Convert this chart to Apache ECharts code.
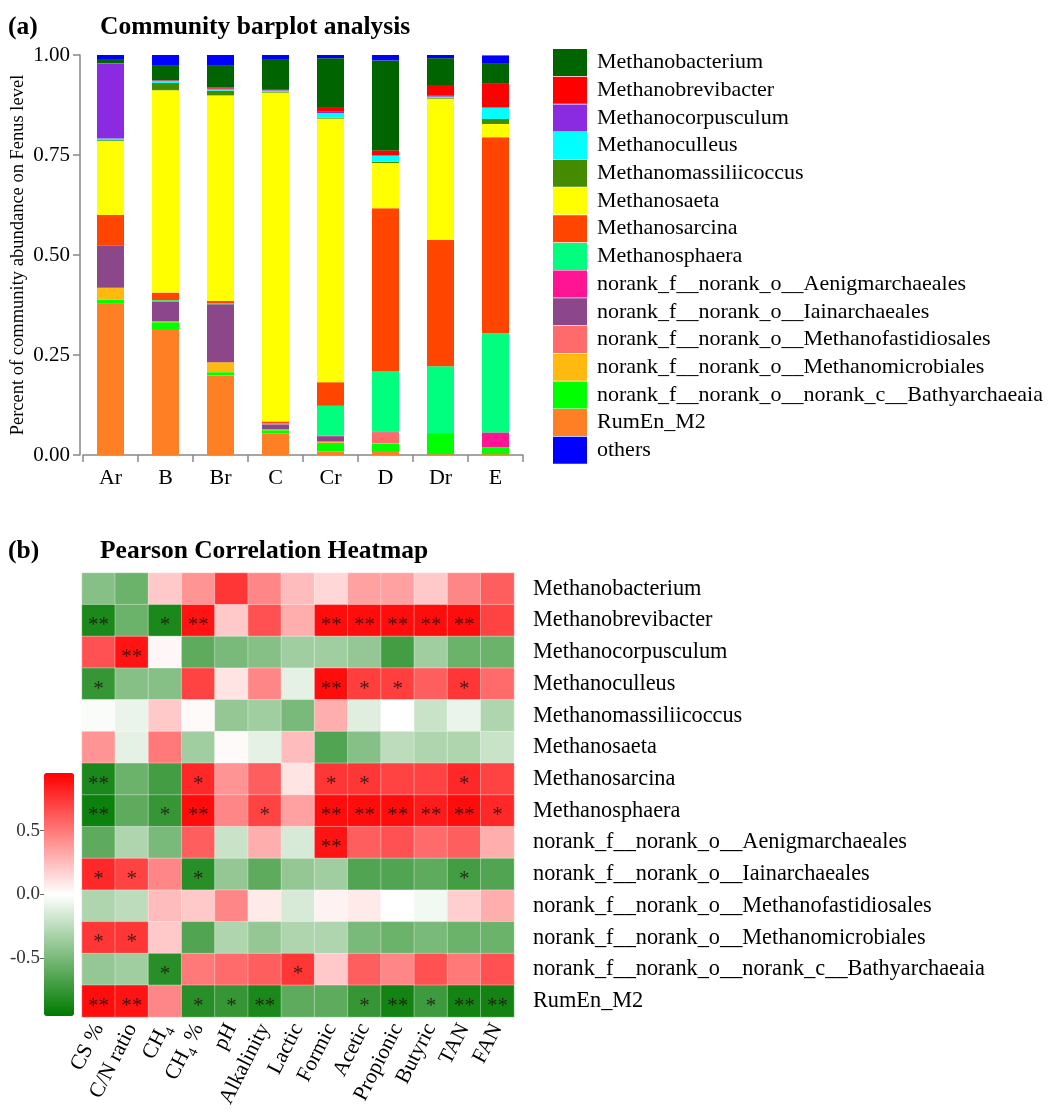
<!DOCTYPE html>
<html>
<head>
<meta charset="utf-8">
<script src="https://cdn.jsdelivr.net/npm/echarts@6/dist/echarts.min.js"></script>
<style>
  html, body { margin: 0; padding: 0; background: #fff; }
  #chart { width: 1053px; height: 1117px; }
</style>
</head>
<body>
<div id="chart"></div>
<script>
// (a) community barplot
const samples = ["Ar", "B", "Br", "C", "Cr", "D", "Dr", "E"];
const yTicks = [0, 0.25, 0.5, 0.75, 1.0];

const rumEn = [0.378, 0.315, 0.199, 0.054, 0.009, 0.010, 0.002, 0.002];
const bathy = [0.010, 0.017, 0.008, 0.008, 0.021, 0.019, 0.052, 0.016];
const microb = [0.030, 0.002, 0.025, 0.002, 0.002, 0.001, 0, 0];
const fastid = [0, 0, 0, 0, 0.003, 0.027, 0, 0.001];
const iain = [0.105, 0.050, 0.145, 0.012, 0.012, 0.001, 0, 0];
const aenig = [0, 0, 0, 0.001, 0.001, 0.001, 0.001, 0.0375];
const sphaera = [0, 0.003, 0.002, 0.003, 0.075, 0.150, 0.167, 0.248];
const sarcina = [0.077, 0.019, 0.006, 0.004, 0.059, 0.408, 0.316, 0.490];
const saeta = [0.185, 0.506, 0.514, 0.822, 0.659, 0.113, 0.353, 0.033];
const massilii = [0.002, 0.018, 0.012, 0.002, 0.002, 0.003, 0.002, 0.0125];
const culleus = [0.004, 0.005, 0.003, 0.003, 0.012, 0.015, 0.003, 0.028];
const corpus = [0.188, 0.001, 0.002, 0.001, 0.003, 0.001, 0.002, 0.001];
const brevi = [0.001, 0.001, 0.003, 0.001, 0.012, 0.0125, 0.027, 0.059];
const bacterium = [0.010, 0.036, 0.054, 0.077, 0.122, 0.225, 0.067, 0.050];
const others = [0.010, 0.027, 0.027, 0.010, 0.008, 0.014, 0.008, 0.021];

// (b) pearson heatmap
const factors = ["CS %", "C/N ratio", "CH4", "CH4 %", "pH", "Alkalinity", "Lactic",
  "Formic", "Acetic", "Propionic", "Butyric", "TAN", "FAN"];
const taxa = ["Methanobacterium", "Methanobrevibacter", "Methanocorpusculum",
  "Methanoculleus", "Methanomassiliicoccus", "Methanosaeta", "Methanosarcina",
  "Methanosphaera", "norank_f__norank_o__Aenigmarchaeales",
  "norank_f__norank_o__Iainarchaeales", "norank_f__norank_o__Methanofastidiosales",
  "norank_f__norank_o__Methanomicrobiales",
  "norank_f__norank_o__norank_c__Bathyarchaeaia", "RumEn_M2"];
const corr = [
  [-0.45, -0.55, 0.2, 0.4, 0.75, 0.45, 0.25, 0.15, 0.35, 0.35, 0.2, 0.45, 0.6],
  [-0.85, -0.55, -0.85, 0.88, 0.2, 0.65, 0.3, 0.9, 0.9, 0.9, 0.9, 0.9, 0.7],
  [0.65, 0.88, 0.03, -0.6, -0.5, -0.45, -0.35, -0.35, -0.4, -0.7, -0.35, -0.55, -0.55],
  [-0.75, -0.45, -0.45, 0.7, 0.1, 0.45, -0.1, 0.9, 0.72, 0.72, 0.6, 0.75, 0.55],
  [-0.02, -0.08, 0.2, 0.02, -0.4, -0.35, -0.5, 0.3, -0.12, 0.0, -0.2, -0.08, -0.3],
  [0.4, -0.1, 0.5, -0.35, 0.02, -0.1, 0.25, -0.65, -0.45, -0.25, -0.3, -0.3, -0.2],
  [-0.85, -0.55, -0.7, 0.8, 0.4, 0.6, 0.1, 0.75, 0.75, 0.7, 0.7, 0.8, 0.7],
  [-0.9, -0.6, -0.75, 0.9, 0.45, 0.7, 0.35, 0.9, 0.9, 0.9, 0.85, 0.9, 0.8],
  [-0.6, -0.3, -0.5, 0.6, -0.2, 0.3, -0.15, 0.88, 0.6, 0.65, 0.55, 0.6, 0.3],
  [0.8, 0.7, 0.45, -0.8, -0.4, -0.6, -0.4, -0.35, -0.65, -0.65, -0.6, -0.7, -0.65],
  [-0.3, -0.25, 0.25, 0.2, 0.45, 0.08, -0.15, 0.05, 0.08, 0.0, -0.05, 0.18, 0.3],
  [0.75, 0.75, 0.2, -0.65, -0.3, -0.4, -0.3, -0.3, -0.5, -0.55, -0.5, -0.55, -0.55],
  [-0.4, -0.35, -0.8, 0.5, 0.55, 0.6, 0.75, 0.2, 0.6, 0.45, 0.65, 0.5, 0.65],
  [0.9, 0.88, 0.45, -0.8, -0.75, -0.85, -0.6, -0.6, -0.75, -0.88, -0.72, -0.88, -0.88]
];
const sig = [
  ["", "", "", "", "", "", "", "", "", "", "", "", ""],
  ["**", "", "*", "**", "", "", "", "**", "**", "**", "**", "**", ""],
  ["", "**", "", "", "", "", "", "", "", "", "", "", ""],
  ["*", "", "", "", "", "", "", "**", "*", "*", "", "*", ""],
  ["", "", "", "", "", "", "", "", "", "", "", "", ""],
  ["", "", "", "", "", "", "", "", "", "", "", "", ""],
  ["**", "", "", "*", "", "", "", "*", "*", "", "", "*", ""],
  ["**", "", "*", "**", "", "*", "", "**", "**", "**", "**", "**", "*"],
  ["", "", "", "", "", "", "", "**", "", "", "", "", ""],
  ["*", "*", "", "*", "", "", "", "", "", "", "", "*", ""],
  ["", "", "", "", "", "", "", "", "", "", "", "", ""],
  ["*", "*", "", "", "", "", "", "", "", "", "", "", ""],
  ["", "", "*", "", "", "", "*", "", "", "", "", "", ""],
  ["**", "**", "", "*", "*", "**", "", "", "*", "**", "*", "**", "**"]
];
const colorbarTicks = [0.5, 0, -0.5];

const serif = "'Liberation Serif', 'Times New Roman', serif";

// stacking order bottom -> top
const stackSeries = [
  ["RumEn_M2", rumEn, "#ff7f24"],
  ["norank_f__norank_o__norank_c__Bathyarchaeaia", bathy, "#00ff00"],
  ["norank_f__norank_o__Methanomicrobiales", microb, "#ffb90f"],
  ["norank_f__norank_o__Methanofastidiosales", fastid, "#ff6a6a"],
  ["norank_f__norank_o__Iainarchaeales", iain, "#8b4789"],
  ["norank_f__norank_o__Aenigmarchaeales", aenig, "#ff1493"],
  ["Methanosphaera", sphaera, "#00ff7f"],
  ["Methanosarcina", sarcina, "#ff4500"],
  ["Methanosaeta", saeta, "#ffff00"],
  ["Methanomassiliicoccus", massilii, "#458b00"],
  ["Methanoculleus", culleus, "#00ffff"],
  ["Methanocorpusculum", corpus, "#8a2be2"],
  ["Methanobrevibacter", brevi, "#ff0000"],
  ["Methanobacterium", bacterium, "#006400"],
  ["others", others, "#0000ff"]
];
const legendOrder = ["Methanobacterium", "Methanobrevibacter", "Methanocorpusculum",
  "Methanoculleus", "Methanomassiliicoccus", "Methanosaeta", "Methanosarcina",
  "Methanosphaera", "norank_f__norank_o__Aenigmarchaeales",
  "norank_f__norank_o__Iainarchaeales", "norank_f__norank_o__Methanofastidiosales",
  "norank_f__norank_o__Methanomicrobiales",
  "norank_f__norank_o__norank_c__Bathyarchaeaia", "RumEn_M2", "others"];

let heatData = [];
corr.forEach((row, r) => {
  row.forEach((v, c) => {
    heatData.push([c, r, v]);
  });
});

let series = stackSeries.map(s => ({
  name: s[0],
  type: "bar",
  stack: "total",
  xAxisIndex: 0,
  yAxisIndex: 0,
  barWidth: 27,
  data: s[1],
  itemStyle: { color: s[2] },
  animation: false
}));

series.push({
  type: "heatmap",
  xAxisIndex: 1,
  yAxisIndex: 1,
  data: heatData,
  itemStyle: { borderColor: "rgba(255,255,255,0.35)", borderWidth: 1 },
  label: {
    show: true,
    formatter: p => sig[p.value[1]][p.value[0]],
    color: "rgba(30,15,15,0.8)",
    fontSize: 21,
    fontFamily: serif,
    offset: [0, 5]
  },
  animation: false
});

const richSub = {
  sub: { fontSize: 14, fontFamily: serif, color: "#000", verticalAlign: "bottom", padding: [0, 0, -4, 0] }
};

const titleStyle = { fontSize: 25.5, fontWeight: "bold", fontFamily: serif, color: "#000" };

let option = {
  backgroundColor: "#fff",
  textStyle: { fontFamily: serif },
  title: [
    { text: "(a)", left: 3, top: 9, textStyle: titleStyle },
    { text: "Community barplot analysis", left: 95, top: 9, textStyle: titleStyle },
    { text: "(b)", left: 3, top: 533, textStyle: titleStyle },
    { text: "Pearson Correlation Heatmap", left: 95, top: 533, textStyle: titleStyle }
  ],
  legend: {
    data: legendOrder,
    orient: "vertical",
    left: 553,
    top: 49,
    padding: 0,
    itemWidth: 34,
    itemHeight: 27,
    itemGap: 0.7,
    icon: "rect",
    textStyle: { fontSize: 22, fontFamily: serif, color: "#000", padding: [0, 0, 0, 5] }
  },
  grid: [
    { left: 83, top: 55, width: 440, height: 400 },
    { left: 82, top: 573, width: 432, height: 444 },
    { left: 44, top: 773, width: 30, height: 243 }
  ],
  xAxis: [
    {
      gridIndex: 0,
      type: "category",
      data: samples,
      axisLine: { lineStyle: { color: "#888", width: 1.5 } },
      axisTick: { show: true, length: 7, lineStyle: { color: "#888", width: 1.5 } },
      axisLabel: { fontSize: 22, fontFamily: serif, color: "#000", margin: 12 }
    },
    {
      gridIndex: 1,
      type: "category",
      data: factors,
      axisLine: { show: false },
      axisTick: { show: false },
      axisLabel: {
        rotate: 63,
        fontSize: 21.5,
        fontFamily: serif,
        color: "#000",
        margin: 8,
        interval: 0,
        formatter: v => v.replace("CH4", "CH{sub|4}"),
        rich: richSub
      }
    },
    {
      gridIndex: 2,
      type: "value",
      show: false
    }
  ],
  yAxis: [
    {
      gridIndex: 0,
      type: "value",
      min: 0,
      max: 1,
      interval: 0.25,
      offset: 3,
      name: "Percent of community abundance on Fenus level",
      nameLocation: "middle",
      nameGap: 52,
      nameTextStyle: { fontSize: 18.5, fontFamily: serif, color: "#000" },
      axisLine: { show: true, lineStyle: { color: "#888", width: 1.5 } },
      axisTick: { show: true, length: 7, lineStyle: { color: "#888", width: 1.5 } },
      splitLine: { show: false },
      axisLabel: {
        fontSize: 21,
        fontFamily: serif,
        color: "#000",
        margin: 10,
        formatter: v => yTicks.indexOf(v) >= 0 ? v.toFixed(2) : ""
      }
    },
    {
      gridIndex: 1,
      type: "category",
      data: taxa,
      inverse: true,
      position: "right",
      axisLine: { show: false },
      axisTick: { show: false },
      axisLabel: { fontSize: 22.3, fontFamily: serif, color: "#000", margin: 19 }
    },
    {
      gridIndex: 2,
      type: "value",
      min: -0.95,
      max: 0.95,
      axisLine: { show: false },
      splitLine: { show: false },
      axisTick: { show: true, length: 4, customValues: colorbarTicks, lineStyle: { color: "#666" } },
      axisLabel: {
        fontSize: 19,
        fontFamily: serif,
        color: "#333",
        margin: 4,
        customValues: colorbarTicks,
        formatter: v => v.toFixed(1)
      }
    }
  ],
  visualMap: {
    type: "continuous",
    seriesIndex: stackSeries.length,
    min: -0.95,
    max: 0.95,
    left: 44,
    top: 773,
    padding: 0,
    itemWidth: 30,
    itemHeight: 243,
    calculable: false,
    hoverLink: false,
    text: ["", ""],
    inRange: { color: ["#007a00", "#ffffff", "#ff0000"] }
  },
  series: series
};

let chart = echarts.init(document.getElementById("chart"), null, { renderer: "canvas" });
chart.setOption(option);
</script>
</body>
</html>
